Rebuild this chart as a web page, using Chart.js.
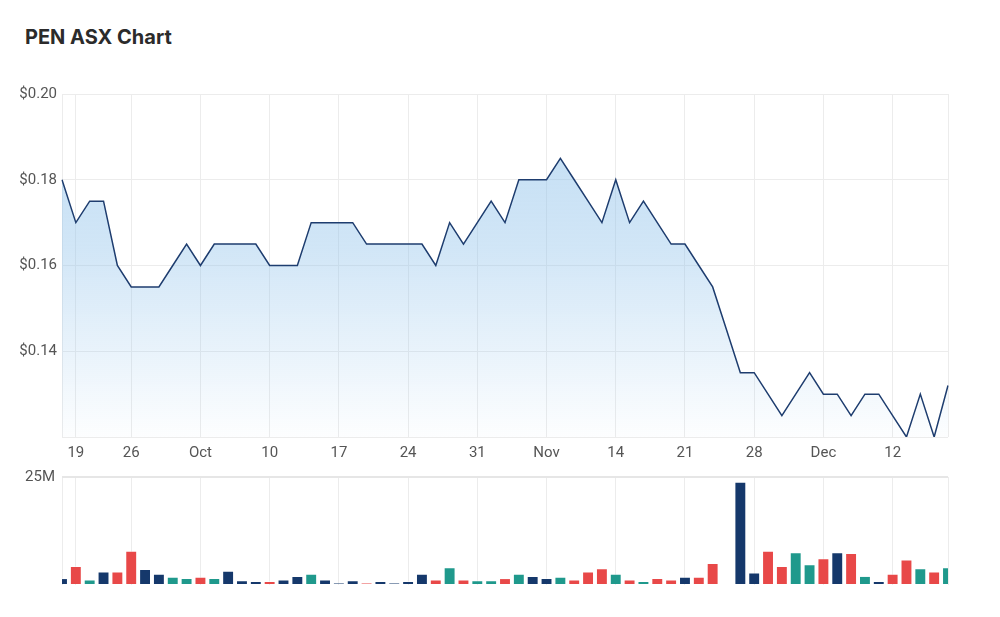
<!DOCTYPE html>
<html>
<head>
<meta charset="utf-8">
<script src="https://cdn.jsdelivr.net/npm/chart.js@4/dist/chart.umd.min.js"></script>
<style>
  body { margin: 0; background: #fff; width: 1000px; height: 617px; position: relative; overflow: hidden; }
  #titulo { position: absolute; left: 25px; top: 25px; font: 700 20px Inter, Roboto, sans-serif; color: #2b2b2b; }
  #precos { position: absolute; left: 0; top: 80px; }
  #volume { position: absolute; left: 0; top: 460px; }
</style>
</head>
<body>
<div id="titulo">PEN ASX Chart</div>
<canvas id="precos" width="1000" height="385"></canvas>
<canvas id="volume" width="1000" height="141"></canvas>
<script>
// trading days, 16 Sep - 16 Dec 2022 (22 Sep closed)
const dias = [
  '2022-09-16', '2022-09-19', '2022-09-20', '2022-09-21', '2022-09-23', '2022-09-26', '2022-09-27', '2022-09-28', '2022-09-29', '2022-09-30',
  '2022-10-03', '2022-10-04', '2022-10-05', '2022-10-06', '2022-10-07', '2022-10-10', '2022-10-11', '2022-10-12', '2022-10-13', '2022-10-14',
  '2022-10-17', '2022-10-18', '2022-10-19', '2022-10-20', '2022-10-21', '2022-10-24', '2022-10-25', '2022-10-26', '2022-10-27', '2022-10-28',
  '2022-10-31', '2022-11-01', '2022-11-02', '2022-11-03', '2022-11-04', '2022-11-07', '2022-11-08', '2022-11-09', '2022-11-10', '2022-11-11',
  '2022-11-14', '2022-11-15', '2022-11-16', '2022-11-17', '2022-11-18', '2022-11-21', '2022-11-22', '2022-11-23', '2022-11-24', '2022-11-25',
  '2022-11-28', '2022-11-29', '2022-11-30', '2022-12-01', '2022-12-02', '2022-12-05', '2022-12-06', '2022-12-07', '2022-12-08', '2022-12-09',
  '2022-12-12', '2022-12-13', '2022-12-14', '2022-12-15', '2022-12-16'
];

const fechamento = [
  0.18, 0.17, 0.175, 0.175, 0.16, 0.155, 0.155, 0.155, 0.16, 0.165,
  0.16, 0.165, 0.165, 0.165, 0.165, 0.16, 0.16, 0.16, 0.17, 0.17,
  0.17, 0.17, 0.165, 0.165, 0.165, 0.165, 0.165, 0.16, 0.17, 0.165,
  0.17, 0.175, 0.17, 0.18, 0.18, 0.18, 0.185, 0.18, 0.175, 0.17,
  0.18, 0.17, 0.175, 0.17, 0.165, 0.165, 0.16, 0.155, 0.145, 0.135,
  0.135, 0.13, 0.125, 0.13, 0.135, 0.13, 0.13, 0.125, 0.13, 0.13,
  0.125, 0.12, 0.13, 0.12, 0.132
];

// volume in millions
const volumes = [
  1.6, 4.4, 1.3, 3.1, 3.1, 7.9, 3.7, 2.6, 1.9, 1.6,
  1.9, 1.6, 3.3, 1.1, 0.9, 0.9, 1.3, 2.1, 2.6, 1.3,
  0.5, 1.1, 0.5, 0.9, 0.5, 0.9, 2.6, 1.3, 4.1, 1.3,
  1.1, 1.1, 1.6, 2.6, 2.1, 1.6, 1.9, 1.3, 3.1, 3.9,
  2.6, 1.3, 0.9, 1.6, 1.3, 1.9, 1.9, 5.1, 0.2, 23.9,
  2.9, 7.9, 4.4, 7.6, 4.8, 6.2, 7.6, 7.4, 2.1, 0.9,
  2.6, 5.9, 3.9, 3.1, 4.1
];

// u = up, d = down, f = flat (colour of each volume bar)
const movimento = [
  'f', 'd', 'u', 'f', 'd', 'd', 'f', 'f', 'u', 'u',
  'd', 'u', 'f', 'f', 'f', 'd', 'f', 'f', 'u', 'f',
  'f', 'f', 'd', 'f', 'f', 'f', 'f', 'd', 'u', 'd',
  'u', 'u', 'd', 'u', 'f', 'f', 'u', 'd', 'd', 'd',
  'u', 'd', 'u', 'd', 'd', 'f', 'd', 'd', 'f', 'f',
  'f', 'd', 'd', 'u', 'u', 'd', 'f', 'd', 'u', 'f',
  'd', 'd', 'u', 'd', 'u'
];

const meses = ['Jan', 'Feb', 'Mar', 'Apr', 'May', 'Jun', 'Jul', 'Aug', 'Sep', 'Oct', 'Nov', 'Dec'];
const cores = { u: '#1f998c', d: '#e84848', f: '#15386b' };
const corGrade = '#ececec';
const fonteTicks = { family: 'Roboto, sans-serif', size: 15 };

function ehSegunda(i) {
  const d = new Date(dias[i] + 'T00:00:00');
  return d.getDay() === 1;
}

function rotuloDia(i) {
  if (!ehSegunda(i)) return '';
  const d = new Date(dias[i] + 'T00:00:00');
  if (d.getDate() <= 7) return meses[d.getMonth()];
  return String(d.getDate());
}

function corLinhaX(ctx) {
  const i = ctx.index;
  if (i === 0 || i === dias.length - 1 || ehSegunda(i)) return corGrade;
  return 'rgba(0,0,0,0)';
}

function escalaX(mostrarRotulos) {
  return {
    type: 'category',
    offset: false,
    grid: { color: corLinhaX, drawTicks: false, offset: false },
    border: { display: false },
    ticks: {
      display: mostrarRotulos,
      autoSkip: false,
      maxRotation: 0,
      padding: 7,
      color: '#555',
      font: fonteTicks,
      callback: function (value, index) { return rotuloDia(index); }
    },
    afterFit: function (s) { if (mostrarRotulos) s.height = 28; else s.height = 0; }
  };
}

function gradiente(ctx) {
  const area = ctx.chart.chartArea;
  if (!area) return 'rgba(150,200,235,0.4)';
  const g = ctx.chart.ctx.createLinearGradient(0, area.top, 0, area.bottom);
  g.addColorStop(0, 'rgba(140,192,234,0.55)');
  g.addColorStop(0.45, 'rgba(140,192,234,0.4)');
  g.addColorStop(1, 'rgba(140,192,234,0.02)');
  return g;
}

new Chart(document.getElementById('precos'), {
  type: 'line',
  data: {
    labels: dias,
    datasets: [{
      data: fechamento,
      borderColor: '#1e3d6f',
      borderWidth: 1.5,
      pointRadius: 0,
      tension: 0,
      fill: 'start',
      backgroundColor: gradiente
    }]
  },
  options: {
    responsive: false,
    animation: false,
    layout: { padding: { top: 14, right: 52, left: 0, bottom: 0 } },
    plugins: { legend: { display: false }, tooltip: { enabled: false } },
    scales: {
      x: escalaX(true),
      y: {
        min: 0.12,
        max: 0.20,
        grid: { color: corGrade, drawTicks: false },
        border: { display: false },
        ticks: {
          stepSize: 0.02,
          padding: 5,
          color: '#555',
          font: fonteTicks,
          callback: function (v) { return Math.abs(v - 0.12) < 1e-6 ? '' : '$' + v.toFixed(2); }
        },
        afterFit: function (s) { s.width = 62; }
      }
    }
  }
});

new Chart(document.getElementById('volume'), {
  type: 'bar',
  data: {
    labels: dias,
    datasets: [{
      data: volumes.map(v => v * 1e6),
      backgroundColor: movimento.map(m => cores[m]),
      borderColor: 'rgba(255,255,255,0.45)',
      borderWidth: 1,
      barPercentage: 0.86,
      categoryPercentage: 1
    }]
  },
  options: {
    responsive: false,
    animation: false,
    layout: { padding: { top: 17, right: 52, left: 0, bottom: 6 } },
    plugins: { legend: { display: false }, tooltip: { enabled: false } },
    scales: {
      x: escalaX(false),
      y: {
        min: 0,
        max: 25e6,
        grid: {
          drawTicks: false,
          color: function (ctx) { return ctx.tick && ctx.tick.value > 0 ? '#e6e6e6' : 'rgba(0,0,0,0)'; },
          lineWidth: 2
        },
        border: { display: false },
        ticks: {
          stepSize: 25e6,
          padding: 7,
          color: '#555',
          font: fonteTicks,
          callback: function (v) { return v === 25e6 ? '25M' : ''; }
        },
        afterFit: function (s) { s.width = 62; }
      }
    }
  }
});
</script>
</body>
</html>
